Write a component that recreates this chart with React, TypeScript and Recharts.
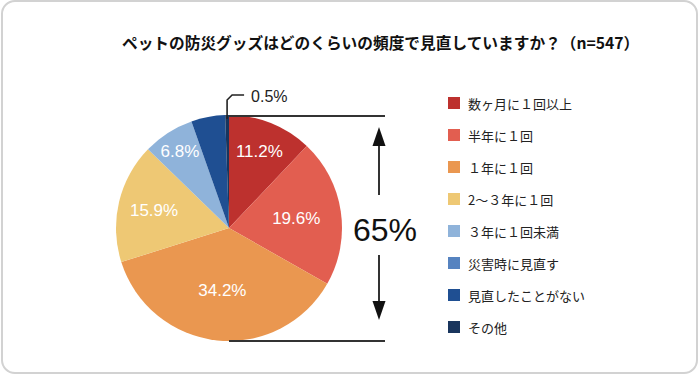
import { PieChart, Pie, Cell } from 'recharts'

const categories = [
  '数ヶ月に１回以上',
  '半年に１回',
  '１年に１回',
  '2～３年に１回',
  '３年に１回未満',
  '災害時に見直す',
  '見直したことがない',
  'その他',
]
const values = [11.2, 19.6, 34.2, 15.9, 6.8, 0, 4.5, 0.5]
const colors = ['#bd312e', '#e25e50', '#ea9750', '#eec874', '#8fb3da', '#5683c0', '#1f4f92', '#19355d']
const labelShown = [true, true, true, true, true, false, false, true]
const title = 'ペットの防災グッズはどのくらいの頻度で見直していますか？（n=547）'
const bracketLabel = '65%'

// label distance from centre for each slice (matches original placement)
const labelRadius = [82, 68, 63, 77, 91, 0, 0, 0]

const CX = 229
const CY = 228
const R = 113
const RAD = Math.PI / 180
const NUM_FONT = '"Liberation Sans", Arial, "Noto Sans CJK JP", sans-serif'
const JP_FONT = '"Noto Sans CJK JP", "Liberation Sans", sans-serif'

const data = categories.map((name, i) => ({ name, value: values[i] }))

// eslint-disable-next-line @typescript-eslint/no-explicit-any
function renderLabel(props: any) {
  const { cx, cy, midAngle, outerRadius, index, value } = props
  if (!labelShown[index]) return null
  const text = `${value.toFixed(1)}%`
  if (index === categories.length - 1) {
    // small slice: leader line going up from the rim
    const x = cx + outerRadius * Math.cos(-midAngle * RAD)
    const yTop = cy - outerRadius
    return (
      <g>
        <polyline
          points={`${x},${yTop + 4} ${x},${yTop - 15} ${x + 5},${yTop - 20} ${x + 17},${yTop - 20}`}
          fill="none"
          stroke="#222"
          strokeWidth={1.6}
        />
        <text x={x + 24} y={yTop - 19} fill="#222" fontSize={16} fontFamily={NUM_FONT} dominantBaseline="central">
          {text}
        </text>
      </g>
    )
  }
  const r = labelRadius[index]
  const x = cx + r * Math.cos(-midAngle * RAD)
  const y = cy + r * Math.sin(-midAngle * RAD)
  return (
    <text x={x} y={y} fill="#fff" fontSize={17} fontFamily={NUM_FONT} textAnchor="middle" dominantBaseline="central">
      {text}
    </text>
  )
}

function Bracket() {
  const ax = 379
  const top = CY - R
  const bottom = CY + R
  return (
    <svg width={700} height={376} style={{ position: 'absolute', left: 0, top: 0, pointerEvents: 'none' }}>
      <line x1={CX} y1={top + 1} x2={385} y2={top + 1} stroke="#333" strokeWidth={2} />
      <line x1={CX} y1={bottom} x2={385} y2={bottom} stroke="#333" strokeWidth={2} />
      <line x1={ax} y1={top + 30} x2={ax} y2={195} stroke="#333" strokeWidth={2} />
      <line x1={ax} y1={255} x2={ax} y2={bottom - 30} stroke="#333" strokeWidth={2} />
      <polygon points={`${ax},${top + 12} ${ax - 6.5},${top + 31} ${ax + 6.5},${top + 31}`} fill="#111" />
      <polygon points={`${ax},${bottom - 21} ${ax - 6.5},${bottom - 40} ${ax + 6.5},${bottom - 40}`} fill="#111" />
      <text x={385} y={230} fontSize={32} fontFamily={NUM_FONT} fill="#111" textAnchor="middle" dominantBaseline="central">
        {bracketLabel}
      </text>
    </svg>
  )
}

export default function App() {
  return (
    <div style={{ position: 'absolute', left: 0, top: 0, width: 700, height: 376, background: '#fff' }}>
      <div
        style={{
          position: 'absolute',
          left: 1,
          top: 0,
          width: 697,
          height: 374,
          boxSizing: 'border-box',
          border: '2.5px solid #d2d2d2',
          borderRadius: 14,
        }}
      />
      <div
        style={{
          position: 'absolute',
          left: 122,
          top: 33,
          fontSize: 15.7,
          fontWeight: 700,
          fontFamily: JP_FONT,
          color: '#111',
          whiteSpace: 'nowrap',
          lineHeight: '20px',
        }}
      >
        {title}
      </div>
      <div style={{ position: 'absolute', left: 0, top: 0 }}>
        <PieChart width={700} height={376} margin={{ top: 0, right: 0, bottom: 0, left: 0 }}>
          <Pie
            data={data}
            dataKey="value"
            nameKey="name"
            cx={CX}
            cy={CY}
            outerRadius={R}
            startAngle={90}
            endAngle={-270}
            stroke="none"
            label={renderLabel}
            labelLine={false}
            isAnimationActive={false}
          >
            {data.map((d, i) => (
              <Cell key={d.name} fill={colors[i]} />
            ))}
          </Pie>
        </PieChart>
      </div>
      <Bracket />
      <div style={{ position: 'absolute', left: 448, top: 87 }}>
        {categories.map((name, i) => (
          <div
            key={name}
            style={{ display: 'flex', alignItems: 'center', height: 32, fontFamily: JP_FONT, fontSize: 13, color: '#222' }}
          >
            <span style={{ width: 12, height: 12, background: colors[i], marginRight: 8, display: 'inline-block' }} />
            <span>{name}</span>
          </div>
        ))}
      </div>
    </div>
  )
}
